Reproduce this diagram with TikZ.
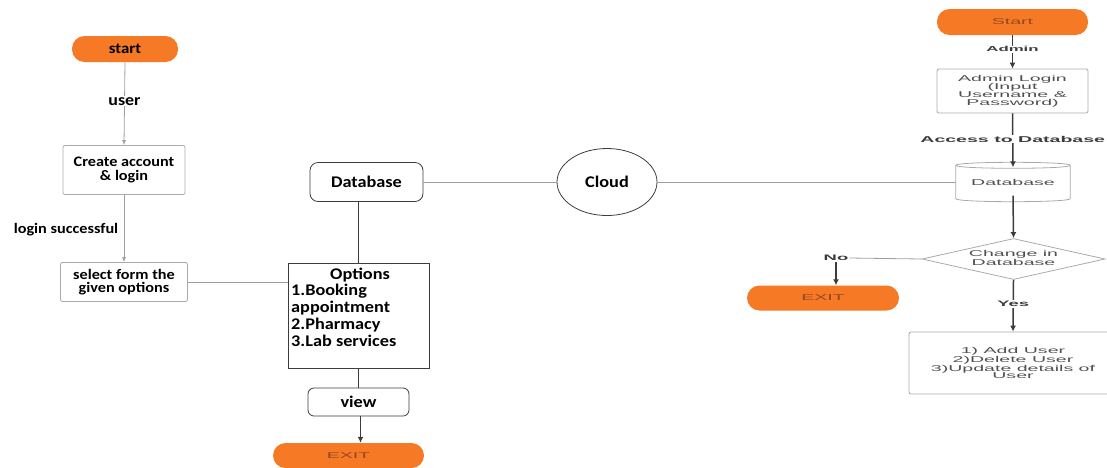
\documentclass[tikz,border=0pt]{standalone}
\usepackage{fontspec}
\usetikzlibrary{shapes.geometric,shapes.misc,arrows.meta}
\newfontfamily\calfont[FakeStretch=1.12]{Carlito}
\newfontfamily\arfont[FakeStretch=2.3]{Liberation Sans}
\definecolor{flowor}{RGB}{246,121,38}
\definecolor{ortext}{RGB}{150,70,35}
\definecolor{boxgray}{RGB}{170,170,170}
\definecolor{txtgray}{RGB}{80,80,80}
\definecolor{darkln}{RGB}{60,60,60}
\tikzset{
  stadium/.style={fill=flowor, draw=none, rounded corners=12.5pt, minimum height=26pt, inner sep=0pt},
  lbox/.style={draw=boxgray, line width=0.8pt, rounded corners=2pt, inner sep=0pt, align=center},
  blackbox/.style={draw=darkln, line width=0.8pt, inner sep=0pt},
  rbox/.style={draw=boxgray, line width=0.8pt, rounded corners=2pt, inner sep=0pt, align=center, text=txtgray},
  ltxt/.style={font=\calfont\bfseries\fontsize{14.5}{13.5}\selectfont, align=center, inner sep=1pt},
  btxt/.style={font=\calfont\bfseries\fontsize{16.3}{17}\selectfont, inner sep=1pt},
  rtxt/.style={font=\arfont\fontsize{8.5}{7.7}\selectfont, align=center, text=txtgray, inner sep=0pt},
  rlab/.style={font=\arfont\bfseries\fontsize{7.3}{8}\selectfont, text=darkln, fill=white, inner sep=1pt},
  ortxt/.style={font=\arfont\fontsize{8.5}{8}\selectfont, text=ortext},
  garrow/.style={draw=gray!75, line width=0.8pt, -{Latex[length=5pt,width=4pt]}},
  gline/.style={draw=gray!75, line width=0.8pt},
  kline/.style={draw=darkln, line width=0.8pt},
  darrow/.style={draw=darkln, line width=1.5pt, -{Latex[length=6pt,width=6pt]}},
}
\begin{document}
\begin{tikzpicture}[x=1pt,y=-1pt]
\useasboundingbox (0,0) rectangle (1107,467);
% ---------- left column ----------
\node[stadium, minimum width=106pt, font=\calfont\bfseries\fontsize{15}{15}\selectfont] (start) at (125,49) {start};
\node[lbox, minimum width=122pt, minimum height=49pt, ltxt] (create) at (124,170) {Create account\\\& login};
\node[lbox, minimum width=127pt, minimum height=39pt, ltxt] (select) at (124,282) {select form the\\given options};
\draw[garrow] (start.south) -- (create.north) node[pos=0.47, fill=white, ltxt, font=\calfont\bfseries\fontsize{16}{16}\selectfont] (userlab) {user};
\draw[garrow] (create.south) -- (select.north);
\node[ltxt] (loglab) at (66,230) {login successful};

\node[blackbox, minimum width=141pt, minimum height=105pt] (opt) at (358.5,315.5) {};
\node[btxt, anchor=center] (opttitle) at (360,275) {Options};
\node[btxt, anchor=north west, align=left, inner sep=0pt] (optlist) at (291,284) {1.Booking\\appointment\\2.Pharmacy\\3.Lab services};
\draw[gline] (select.east) -- (opt.west |- select.east);

\node[blackbox, rounded corners=8pt, minimum width=113pt, minimum height=39pt, btxt] (dbl) at (366.5,182) {Database};
\draw[kline] (opt.north) -- (opt.north |- dbl.south);

\node[ellipse, draw=darkln, line width=0.8pt, minimum width=100pt, minimum height=67pt, inner sep=0pt, btxt] (cloud) at (607,182) {Cloud};
\draw[gline] (dbl.east) -- (cloud.west);

\node[blackbox, rounded corners=6pt, minimum width=101pt, minimum height=28pt, btxt] (view) at (358.5,402) {view};
\draw[kline] (opt.south) -- (opt.south |- view.north);

\node[stadium, minimum width=151pt, minimum height=25pt, ortxt] (exitl) at (348.5,455.5) {EXIT};
\draw[draw=darkln, line width=1.3pt, -{Latex[length=6pt,width=6pt]}] ([xshift=2pt]view.south) -- ([xshift=2pt]view.south |- exitl.north);

% ---------- right column ----------
\node[stadium, minimum width=151pt, ortxt] (startr) at (1012.5,22) {Start};
\node[rbox, minimum width=151pt, minimum height=44pt, rtxt] (admin) at (1012.5,91) {Admin Login\\(Input\\Username \&\\Password)};
\draw[darrow] (startr.south) -- (admin.north) node[pos=0.42, rlab] (adminlab) {Admin};

\node[minimum width=114pt, minimum height=33pt, inner sep=0pt, rtxt] (dbr) at (1013,182) {Database};
\draw[draw=boxgray, line width=0.8pt]
  (dbr.north west) .. controls +(0,-4) and +(0,-4) .. (dbr.north east)
  -- (dbr.south east) .. controls +(0,4) and +(0,4) .. (dbr.south west) -- cycle;
\draw[draw=boxgray, line width=0.8pt]
  (dbr.north west) .. controls +(0,4) and +(0,4) .. (dbr.north east);
\draw[darrow] (admin.south) -- ([yshift=-2pt]dbr.north) node[pos=0.48, rlab, font=\arfont\bfseries\fontsize{8.5}{8}\selectfont] (acclab) {Access to Database};
\draw[gline] (cloud.east) -- (dbr.west);

\node[diamond, draw=boxgray, line width=0.8pt, minimum width=183pt, minimum height=41pt, inner sep=0pt] (dec) at (1013.5,259) {};
\node[rtxt] (dectxt) at (1013.5,258) {Change in\\Database};
\draw[darrow] ([yshift=3pt]dbr.south) -- (dec.north);

\node[rlab, font=\arfont\bfseries\fontsize{8}{8}\selectfont] (nolab) at (836,258) {No};
\draw[gline] (dec.west) -- (nolab.east);
\node[stadium, minimum width=152pt, minimum height=25pt, ortxt] (exitr) at (823,298) {EXIT};
\draw[darrow] (nolab.south) -- (nolab.south |- exitr.north);

\node[rbox, minimum width=208pt, minimum height=62pt, rtxt] (actions) at (1013,363) {1) Add User\\2)Delete User\\3)Update details of\\User};
\draw[darrow] (dec.south) -- (actions.north) node[pos=0.47, rlab, font=\arfont\bfseries\fontsize{8}{8}\selectfont] (yeslab) {Yes};
\end{tikzpicture}
\end{document}
